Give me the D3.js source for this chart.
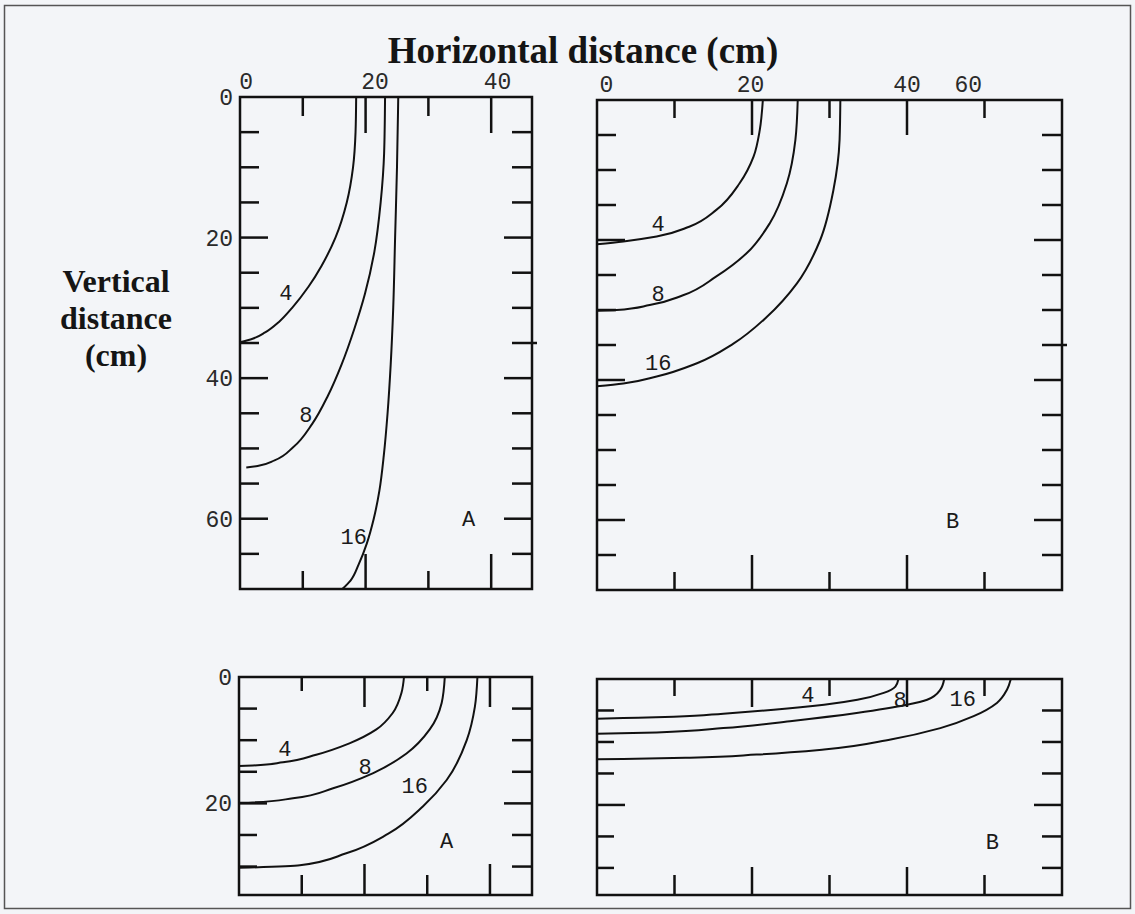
<!DOCTYPE html>
<html lang="en">
<head>
<meta charset="UTF-8">
<title>Horizontal and vertical distance contours</title>
<script src="https://cdnjs.cloudflare.com/ajax/libs/d3/7.8.5/d3.min.js"></script>
<style>
  body { margin: 0; background: #f3f5f8; overflow: hidden; }
  svg { display: block; }
  .tick-label { font-family: "Liberation Mono", monospace; font-size: 23px; fill: #2a2a2a; }
  .curve-label { font-family: "Liberation Mono", monospace; font-size: 22px; fill: #1a1a1a; }
  .panel-letter { font-family: "Liberation Mono", monospace; font-size: 22px; fill: #1a1a1a; }
  .title { font-family: "Liberation Serif", serif; font-weight: bold; fill: #151515; }
</style>
</head>
<body>
<div id="chart"></div>
<script>
// contour values (cm)
const levels = ["4", "8", "16"];

// top-left panel (A)
const topA4  = [[18.5,0],[18.4,5],[18.0,10],[17.0,15],[15.2,20],[13.0,24],[10.9,27],[8.3,30],[6.2,32],[4.0,33.5],[2.0,34.4],[0,34.9]];
const topA8  = [[23.1,0],[22.95,8],[22.4,15],[21.4,22],[19.9,28],[18.2,33],[16.2,38],[14.0,42.5],[11.5,46.5],[8.5,49.8],[5.5,51.7],[2.8,52.5],[1.0,52.7]];
const topA16 = [[25.2,0],[25.0,10],[24.7,20],[24.4,30],[24.0,38],[23.5,45],[22.9,51],[22.2,56],[21.3,60],[20.2,63.5],[18.9,66.5],[17.6,68.8],[16.3,70]];

// top-right panel (B)
const topB4  = [[21.4,0],[21.0,4.3],[20.2,8.1],[18.4,11.9],[15.4,15.7],[11.9,18.1],[7.7,19.5],[3.4,20.2],[0,20.6]];
const topB8  = [[25.9,0],[25.6,5.7],[24.5,11.9],[22.3,17.6],[19.3,21.9],[15.4,25.2],[11.1,27.9],[6.8,29.3],[2.5,30.0],[0,30.1]];
const topB16 = [[31.4,0],[31.3,5.7],[30.5,12.9],[28.8,20.0],[25.8,26.2],[21.9,31.0],[17.6,34.8],[12.9,37.6],[7.7,39.5],[3.4,40.5],[0,40.9]];

// bottom-left panel (A)
const botA4  = [[26.3,0],[25.9,2.5],[24.5,5.7],[21.9,8.3],[17.6,10.5],[12.3,12.3],[7.0,13.5],[2.2,14.0],[0,14.1]];
const botA8  = [[32.8,0],[32.3,4.1],[30.4,8.3],[26.7,12.1],[21.4,15.2],[15.0,17.6],[8.6,19.2],[2.2,19.85],[0,19.9]];
const botA16 = [[38.0,0],[37.6,4.7],[36.3,10.0],[33.1,16.3],[29.3,20.5],[23.8,24.8],[17.1,27.9],[9.7,29.8],[1.7,30.15],[0,30.2]];

// bottom-right panel (B)
const botB4  = [[38.9,0],[38.5,1.2],[37.0,2.2],[33.6,3.3],[29.3,4.1],[22.8,4.9],[16.3,5.5],[9.9,6.0],[3.4,6.2],[0,6.3]];
const botB8  = [[44.8,0],[44.3,1.7],[42.6,3.3],[40.0,4.1],[33.5,5.4],[24.9,6.7],[16.3,7.8],[7.7,8.5],[0,8.7]];
const botB16 = [[53.4,0],[52.9,1.7],[51.6,3.8],[48.6,5.9],[44.3,7.8],[37.9,9.6],[29.3,11.2],[20.6,12.0],[12.0,12.5],[3.4,12.7],[0,12.75]];

// where each contour label sits (cm)
const topALabelAt = [[7.3,27.8],[10.5,45.1],[18.1,62.5]];
const topBLabelAt = [[7.9,17.6],[7.9,27.6],[7.9,37.4]];
const botALabelAt = [[7.3,11.3],[20.1,14.2],[28.0,17.1]];
const botBLabelAt = [[27.2,2.5],[39.1,3.2],[47.2,3.0]];

// tick marks and tick labels
const xTicksA = [10, 20, 30, 40];
const xTicksB = [10, 20, 30, 40, 50];
const yTicksTop = [5, 10, 15, 20, 25, 30, 35, 40, 45, 50, 55, 60, 65];
const yTicksBot = [5, 10, 15, 20, 25, 30];
const xLabelsA = ["0", "20", "40"];
const xLabelsAAt = [1, 21.5, 41];
const xLabelsB = ["0", "20", "40", "60"];
const xLabelsBAt = [1.2, 19.8, 40, 47.9];
const yLabelsTop = [0, 20, 40, 60];
const yLabelsBot = [0, 20];

const width = 1135, height = 914;
const svg = d3.select("#chart").append("svg")
  .attr("width", width).attr("height", height);

// scanned-page border
svg.append("rect")
  .attr("x", 4.5).attr("y", 5.5).attr("width", 1126).attr("height", 903)
  .attr("fill", "none").attr("stroke", "#555").attr("stroke-width", 1.5);

svg.append("text").attr("class", "title")
  .attr("x", 583).attr("y", 63).attr("text-anchor", "middle")
  .attr("font-size", 37).text("Horizontal distance (cm)");

const ylab = svg.append("text").attr("class", "title")
  .attr("text-anchor", "middle").attr("font-size", 32);
["Vertical", "distance", "(cm)"].forEach((t, i) => {
  ylab.append("tspan").attr("x", 116).attr("y", 292 + i * 37).text(t);
});

// every contour runs downward as it moves left, so a monotone-in-y curve fits
const line = d3.line().curve(d3.curveMonotoneY);

function panel(opt) {
  const x = d3.scaleLinear().domain(opt.xDomain).range([opt.left, opt.right]);
  const y = d3.scaleLinear().domain(opt.yDomain).range([opt.top, opt.bottom]);
  const g = svg.append("g");

  // frame
  g.append("rect")
    .attr("x", opt.left).attr("y", opt.top)
    .attr("width", opt.right - opt.left).attr("height", opt.bottom - opt.top)
    .attr("fill", "none").attr("stroke", "#111").attr("stroke-width", 2.5);

  const tick = (x1, y1, x2, y2) => g.append("line")
    .attr("x1", x1).attr("y1", y1).attr("x2", x2).attr("y2", y2)
    .attr("stroke", "#111").attr("stroke-width", 2.5);

  opt.xTicks.forEach(v => {
    const long = v % 20 === 0;
    tick(x(v), opt.top, x(v), opt.top + (long ? opt.xTopLong : opt.xTopShort));
    tick(x(v), opt.bottom, x(v), opt.bottom - (long ? opt.xBotLong : opt.xBotShort));
  });
  opt.yTicks.forEach(v => {
    const long = v % 20 === 0;
    tick(opt.left, y(v), opt.left + (long ? 28 : opt.yShort), y(v));
    tick(opt.right, y(v), opt.right - (long ? 28 : 20), y(v));
  });
  if (opt.outTick) tick(opt.right, y(35), opt.right + 5, y(35));

  // contours
  opt.curves.forEach(c => {
    g.append("path").attr("d", line(c.map(d => [x(d[0]), y(d[1])])))
      .attr("fill", "none").attr("stroke", "#111").attr("stroke-width", 2);
  });
  opt.labelAt.forEach((p, i) => {
    g.append("text").attr("class", "curve-label")
      .attr("x", x(p[0])).attr("y", y(p[1])).attr("dy", "0.35em")
      .attr("text-anchor", "middle")
      .attr("font-size", opt.labelSize || 22)
      .text(levels[i]);
  });

  g.append("text").attr("class", "panel-letter")
    .attr("x", x(opt.letterAt[0])).attr("y", y(opt.letterAt[1])).attr("dy", "0.35em")
    .attr("text-anchor", "middle").text(opt.letter);

  if (opt.xLabels) {
    opt.xLabels.forEach((t, i) => {
      g.append("text").attr("class", "tick-label")
        .attr("x", x(opt.xLabelsAt[i])).attr("y", opt.top - 8)
        .attr("text-anchor", "middle").text(t);
    });
  }
  if (opt.yLabels) {
    opt.yLabels.forEach(v => {
      g.append("text").attr("class", "tick-label")
        .attr("x", opt.left - 7).attr("y", y(v)).attr("dy", "0.35em")
        .attr("text-anchor", "end").text(v);
    });
  }
}

panel({
  left: 240, right: 532, top: 97, bottom: 589,
  xDomain: [0, 46.5], yDomain: [0, 70],
  xTicks: xTicksA, yTicks: yTicksTop,
  xTopShort: 19, xTopLong: 36, xBotShort: 18, xBotLong: 35, yShort: 19,
  outTick: true,
  curves: [topA4, topA8, topA16], labelAt: topALabelAt,
  letter: "A", letterAt: [36.4, 60],
  xLabels: xLabelsA, xLabelsAt: xLabelsAAt, yLabels: yLabelsTop
});

panel({
  left: 597, right: 1062, top: 100, bottom: 590,
  xDomain: [0, 60], yDomain: [0, 70],
  xTicks: xTicksB, yTicks: yTicksTop,
  xTopShort: 18, xTopLong: 35, xBotShort: 18, xBotLong: 35, yShort: 19,
  outTick: true,
  curves: [topB4, topB8, topB16], labelAt: topBLabelAt,
  letter: "B", letterAt: [45.9, 60],
  xLabels: xLabelsB, xLabelsAt: xLabelsBAt
});

panel({
  left: 239, right: 532, top: 677, bottom: 895,
  xDomain: [0, 46.7], yDomain: [0, 34.5],
  xTicks: xTicksA, yTicks: yTicksBot,
  xTopShort: 14, xTopLong: 30, xBotShort: 20, xBotLong: 31, yShort: 18,
  curves: [botA4, botA8, botA16], labelAt: botALabelAt,
  letter: "A", letterAt: [33.1, 25.8],
  yLabels: yLabelsBot
});

panel({
  left: 597, right: 1062, top: 679, bottom: 895,
  xDomain: [0, 60], yDomain: [0, 34.3],
  xTicks: xTicksB, yTicks: yTicksBot,
  xTopShort: 17, xTopLong: 28, xBotShort: 20, xBotLong: 28, yShort: 17,
  curves: [botB4, botB8, botB16], labelAt: botBLabelAt, labelSize: 19,
  letter: "B", letterAt: [51, 25.8]
});
</script>
</body>
</html>
